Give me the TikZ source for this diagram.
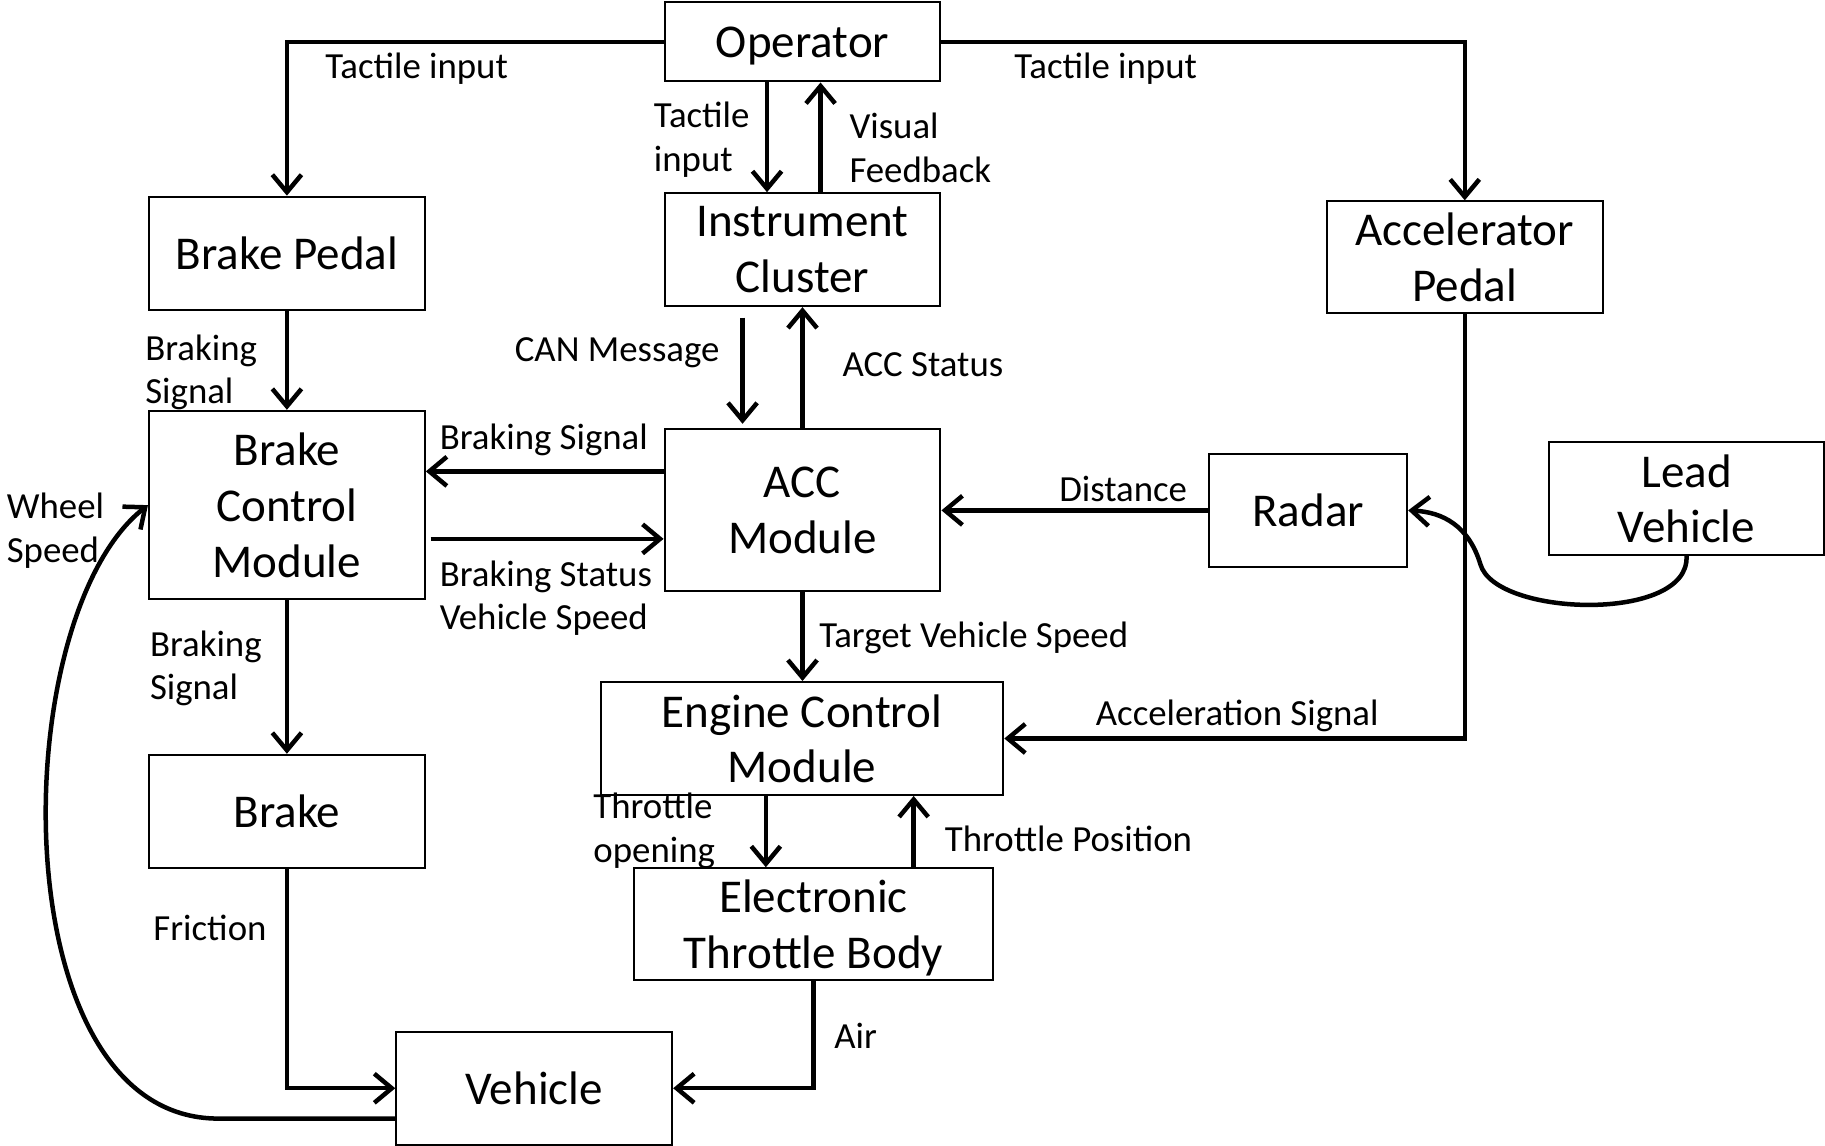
\documentclass[tikz,border=0pt]{standalone}
\usepackage{fontspec}
\setmainfont{Carlito}
\usetikzlibrary{arrows.meta}

\begin{document}
\begin{tikzpicture}[x=0.1mm,y=-0.1mm,line width=.5pt,
  box/.style={draw,line width=.5pt,minimum width=23.7mm,minimum height=9.7mm,inner sep=0pt,text depth=-0.7mm,align=center,font=\fontsize{11.5}{13.6}\selectfont},
  lbl/.style={inner sep=0pt,align=left,font=\fontsize{9}{10.6}\selectfont},
  conn/.style={line width=1.1pt,-{Straight Barb[length=1.5mm,width=2.5mm]}}]
\path[use as bounding box] (0,0) rectangle (1568,984);
% blocks
\node[box,minimum height=6.8mm] (op) at (689.5,36) {Operator};
\node[box] (ic) at (689.5,214.5) {Instrument\\Cluster};
\node[box] (bp) at (246.5,217.5) {Brake Pedal};
\node[box,minimum height=9.6mm] (ap) at (1258.5,221) {Accelerator\\Pedal};
\node[box,minimum height=16.2mm] (bcm) at (246.5,434) {Brake\\Control\\Module};
\node[box,minimum height=13.9mm] (acc) at (689.5,438.5) {ACC\\Module};
\node[box,minimum width=17mm] (radar) at (1124,438.5) {Radar};
\node[box] (lead) at (1449,428.5) {Lead\\Vehicle};
\node[box,minimum width=34.6mm] (ecm) at (689,634.5) {Engine Control\\Module};
\node[box] (brake) at (246.5,697) {Brake};
\node[box,minimum width=30.8mm,minimum height=9.6mm] (etb) at (699,794) {Electronic\\Throttle Body};
\node[box] (veh) at (459,935) {Vehicle};
% connectors
\draw[conn] (op.west) -| (bp.north);
\draw[conn] (op.east) -| (ap.north);
\draw[conn] ([xshift=-3.05mm]op.south) -- ([xshift=-3.05mm]ic.north);
\draw[conn] ([xshift=1.55mm]ic.north) -- ([xshift=1.55mm]op.south);
\draw[conn] (bp) -- (bcm);
\draw[conn] ([xshift=-5.15mm,yshift=-0.9mm]ic.south) -- ([xshift=-5.15mm,yshift=0.4mm]acc.north);
\draw[conn] (acc) -- (ic);
\draw[conn] ([yshift=3.35mm]acc.west) -- ([yshift=3.35mm]acc.west -| bcm.east);
\draw[conn] ([xshift=0.4mm,yshift=-2.45mm]acc.west -| bcm.east) -- ([yshift=-2.45mm]acc.west);
\draw[conn] (radar) -- (acc);
\draw[conn] (lead.south) .. controls (1452,535) and (1285,530) .. (1272,485) .. controls (1262,452) and (1240,440) .. (radar.east);
\draw[conn] (ap.south) |- (ecm.east);
\draw[conn] (acc.south) -- (acc.south |- ecm.north);
\draw[conn] (bcm) -- (brake);
\draw[conn] ([xshift=-3.1mm]ecm.south) -- ([xshift=-3.1mm]ecm.south |- etb.north);
\draw[conn] ([xshift=9.6mm]ecm.south |- etb.north) -- ([xshift=9.6mm]ecm.south);
\draw[conn] (brake.south) |- (veh.west);
\draw[conn] (etb.south) |- (veh.east);
\draw[conn] ([yshift=-2.6mm]veh.west) -- ++(-156,0) .. controls (0,955) and (5,530) .. (bcm.west);
% labels
\node[lbl] (l1) at (358,59) {Tactile input};
\node[lbl] (l2) at (950,59) {Tactile input};
\node[lbl,anchor=west] (l3) at (561,120) {Tactile\\input};
\node[lbl,anchor=west] (l4) at (729,127) {Visual\\Feedback};
\node[lbl,anchor=west] (l5) at (124,320) {Braking\\Signal};
\node[lbl,anchor=east] (l6) at (619,303) {CAN Message};
\node[lbl,anchor=west] (l7) at (723,313) {ACC Status};
\node[lbl,anchor=west] (l8) at (377,378) {Braking Signal};
\node[lbl,anchor=west] (l9) at (377,514) {Braking Status\\Vehicle Speed};
\node[lbl] (l10) at (965,420) {Distance};
\node[lbl] (l11) at (1063,615) {Acceleration Signal};
\node[lbl,anchor=west] (l12) at (703,548) {Target Vehicle Speed};
\node[lbl,anchor=west] (l13) at (128,574) {Braking\\Signal};
\node[lbl,anchor=west] (l14) at (509,714) {Throttle\\opening};
\node[lbl,anchor=west] (l15) at (811,721) {Throttle Position};
\node[lbl,anchor=west] (l16) at (131,797) {Friction};
\node[lbl,anchor=west] (l17) at (716,890) {Air};
\node[lbl,anchor=west] (l18) at (5,456) {Wheel\\Speed};
\end{tikzpicture}
\end{document}
